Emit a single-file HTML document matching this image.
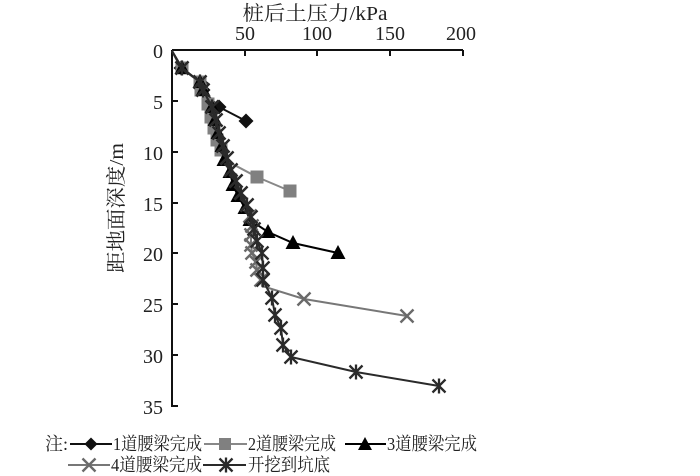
<!DOCTYPE html>
<html><head><meta charset="utf-8"><style>
html,body{margin:0;padding:0;background:#fff;}
svg{display:block;}
text{font-family:"Liberation Serif","Noto Serif CJK SC",serif;fill:#222;}
</style></head><body>
<svg width="700" height="476" viewBox="0 0 700 476" xmlns="http://www.w3.org/2000/svg">
<defs>
<path id="dia" d="M0,-7.5 L7.5,0 L0,7.5 L-7.5,0 Z" fill="#111"/>
<rect id="sq" x="-6.5" y="-6.5" width="13" height="13" fill="#808080"/>
<path id="tri" d="M0,-8 L7.5,6 L-7.5,6 Z" fill="#000"/>
<path id="xx" d="M-6.5,-6.5 L6.5,6.5 M-6.5,6.5 L6.5,-6.5" stroke="#6a6a6a" stroke-width="2.4" fill="none"/>
<path id="st" d="M-6.5,-6.5 L6.5,6.5 M-6.5,6.5 L6.5,-6.5 M0,-7.5 L0,7.5" stroke="#2a2a2a" stroke-width="2.3" fill="none"/>
<path id="diaL" d="M0,-6.5 L6.5,0 L0,6.5 L-6.5,0 Z" fill="#111"/>
<rect id="sqL" x="-6" y="-6" width="12" height="12" fill="#808080"/>
<path id="triL" d="M0,-7 L7,6 L-7,6 Z" fill="#000"/>
</defs>

<!-- titles -->
<text x="315" y="20" font-size="20" text-anchor="middle" textLength="145" lengthAdjust="spacingAndGlyphs">桩后土压力/kPa</text>
<text transform="translate(123,208) rotate(-90)" font-size="20" text-anchor="middle" textLength="130" lengthAdjust="spacingAndGlyphs">距地面深度/m</text>

<!-- x tick labels -->
<g font-size="20" text-anchor="middle">
<text x="245" y="40">50</text>
<text x="317" y="40">100</text>
<text x="390" y="40">150</text>
<text x="461" y="40">200</text>
</g>
<!-- y tick labels -->
<g font-size="20" text-anchor="end">
<text x="163" y="58">0</text>
<text x="163" y="109">5</text>
<text x="163" y="160">10</text>
<text x="163" y="211">15</text>
<text x="163" y="261">20</text>
<text x="163" y="312">25</text>
<text x="163" y="363">30</text>
<text x="163" y="414">35</text>
</g>

<!-- axes -->
<g stroke="#111" stroke-width="2" fill="none">
<path d="M172,50 L463,50 M172,50 L172,407"/>
<path d="M245,50 L245,56 M317,50 L317,56 M390,50 L390,56 M463,50 L463,56"/>
<path d="M172,101 L178,101 M172,152 L178,152 M172,203 L178,203 M172,253 L178,253 M172,304 L178,304 M172,355 L178,355 M172,406 L178,406"/>
</g>

<!-- series 1 -->
<polyline fill="none" stroke="#111" stroke-width="2" points="172,51 181,68 201,83 203,90 219,107 246,121"/>
<g>
<use href="#dia" x="181" y="68"/><use href="#dia" x="201" y="83"/><use href="#dia" x="203" y="90"/><use href="#dia" x="219" y="107"/><use href="#dia" x="246" y="121"/>
</g>
<!-- series 2 -->
<polyline fill="none" stroke="#888" stroke-width="2" points="172,51 182,68 200,82 201,90 208,104 211,117 214,128 217,140 221,150 225,160 257,177 290,191"/>
<g>
<use href="#sq" x="182" y="68"/><use href="#sq" x="200" y="82"/><use href="#sq" x="201" y="90"/><use href="#sq" x="208" y="104"/><use href="#sq" x="211" y="117"/><use href="#sq" x="214" y="128"/><use href="#sq" x="217" y="140"/><use href="#sq" x="221" y="150"/><use href="#sq" x="257" y="177"/><use href="#sq" x="290" y="191"/>
</g>
<!-- series 3 -->
<polyline fill="none" stroke="#000" stroke-width="2" points="172,51 182,68 200,82 203,90 212,107 215,120 218,133 222,146 224,160 230,172 233,185 238,196 245,208 250,220 268,232 293,243 338,253"/>
<g>
<use href="#tri" x="182" y="68"/><use href="#tri" x="200" y="82"/><use href="#tri" x="203" y="90"/><use href="#tri" x="212" y="107"/><use href="#tri" x="215" y="120"/><use href="#tri" x="218" y="133"/><use href="#tri" x="222" y="146"/><use href="#tri" x="224" y="160"/><use href="#tri" x="230" y="172"/><use href="#tri" x="233" y="185"/><use href="#tri" x="238" y="196"/><use href="#tri" x="245" y="208"/><use href="#tri" x="250" y="220"/><use href="#tri" x="268" y="232"/><use href="#tri" x="293" y="243"/><use href="#tri" x="338" y="253"/>
</g>
<!-- series 4 -->
<polyline fill="none" stroke="#777" stroke-width="2" points="172,51 182,68 200,82 203,90 212,107 216,120 219,133 223,146 227,158 231,170 236,181 241,193 247,205 250,216 252,226 251,235 251,245 252,253 256,262 257,270 261,280 262,286 304,299 407,316"/>
<g>
<use href="#xx" x="182" y="68"/><use href="#xx" x="200" y="82"/><use href="#xx" x="203" y="90"/><use href="#xx" x="212" y="107"/><use href="#xx" x="216" y="120"/><use href="#xx" x="219" y="133"/><use href="#xx" x="223" y="146"/><use href="#xx" x="227" y="158"/><use href="#xx" x="231" y="170"/><use href="#xx" x="236" y="181"/><use href="#xx" x="241" y="193"/><use href="#xx" x="247" y="205"/><use href="#xx" x="250" y="216"/><use href="#xx" x="252" y="226"/><use href="#xx" x="251" y="235"/><use href="#xx" x="251" y="245"/><use href="#xx" x="252" y="253"/><use href="#xx" x="256" y="262"/><use href="#xx" x="257" y="270"/><use href="#xx" x="261" y="280"/><use href="#xx" x="304" y="299"/><use href="#xx" x="407" y="316"/>
</g>
<!-- series 5 -->
<polyline fill="none" stroke="#2a2a2a" stroke-width="2" points="172,51 182,68 200,82 203,90 212,107 216,120 219,133 223,146 227,158 231,170 236,181 241,193 247,205 251,217 254,229 257,241 262,253 263,268 263,280 272,298 275,315 281,328 283,345 291,357 356,372 439,386"/>
<g>
<use href="#st" x="182" y="68"/><use href="#st" x="200" y="82"/><use href="#st" x="203" y="90"/><use href="#st" x="212" y="107"/><use href="#st" x="216" y="120"/><use href="#st" x="219" y="133"/><use href="#st" x="223" y="146"/><use href="#st" x="227" y="158"/><use href="#st" x="231" y="170"/><use href="#st" x="236" y="181"/><use href="#st" x="241" y="193"/><use href="#st" x="247" y="205"/><use href="#st" x="251" y="217"/><use href="#st" x="254" y="229"/><use href="#st" x="257" y="241"/><use href="#st" x="262" y="253"/><use href="#st" x="263" y="268"/><use href="#st" x="263" y="280"/><use href="#st" x="272" y="298"/><use href="#st" x="275" y="315"/><use href="#st" x="281" y="328"/><use href="#st" x="283" y="345"/><use href="#st" x="291" y="357"/><use href="#st" x="356" y="372"/><use href="#st" x="439" y="386"/>
</g>

<!-- legend -->
<g font-size="18">
<text x="45" y="450" textLength="23" lengthAdjust="spacingAndGlyphs">注:</text>
<line x1="70" y1="444" x2="112" y2="444" stroke="#111" stroke-width="2"/>
<use href="#diaL" x="91" y="444"/>
<text x="113" y="450" textLength="89" lengthAdjust="spacingAndGlyphs">1道腰梁完成</text>
<line x1="204" y1="444" x2="247" y2="444" stroke="#888" stroke-width="2"/>
<use href="#sqL" x="225" y="444"/>
<text x="248" y="450" textLength="88" lengthAdjust="spacingAndGlyphs">2道腰梁完成</text>
<line x1="345" y1="444" x2="386" y2="444" stroke="#000" stroke-width="2"/>
<use href="#triL" x="365" y="444"/>
<text x="387" y="450" textLength="90" lengthAdjust="spacingAndGlyphs">3道腰梁完成</text>

<line x1="68" y1="465" x2="110" y2="465" stroke="#777" stroke-width="2"/>
<use href="#xx" x="89" y="465"/>
<text x="111" y="471" textLength="91" lengthAdjust="spacingAndGlyphs">4道腰梁完成</text>
<line x1="203" y1="465" x2="246" y2="465" stroke="#2a2a2a" stroke-width="2"/>
<use href="#st" x="226" y="465"/>
<text x="248" y="471" textLength="82" lengthAdjust="spacingAndGlyphs">开挖到坑底</text>
</g>
</svg>
</body></html>
